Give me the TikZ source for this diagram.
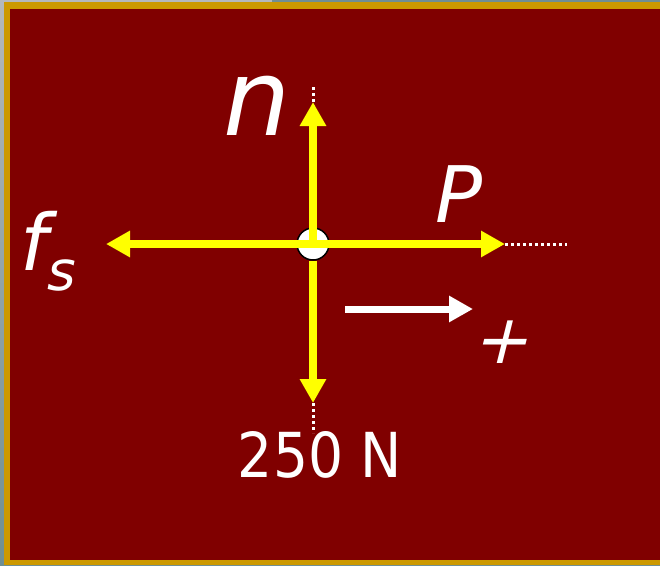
\documentclass[tikz,border=0pt]{standalone}
\usepackage{fontspec}
\setmainfont{DejaVu Sans}
\usetikzlibrary{arrows.meta}
\definecolor{maroonbg}{HTML}{800000}
\definecolor{goldframe}{HTML}{CC9900}
\definecolor{grayedge}{HTML}{B4B8BC}
\definecolor{tealedge}{HTML}{6F8F94}
\definecolor{forceyellow}{HTML}{FFFF00}
\tikzset{
  force/.style={draw=forceyellow, line width=8pt, -{Triangle[length=24pt,width=25pt]}},
  dotext/.style={draw=white, line width=3pt, dash pattern=on 3pt off 3pt},
  lbl/.style={text=white, inner sep=0pt, font=\fontsize{78}{78}\selectfont\itshape},
  dirarrow/.style={draw=white, line width=7pt, -{Triangle[length=24pt,width=25pt]}}
}
\begin{document}
\begin{tikzpicture}[x=1pt,y=-1pt]
\useasboundingbox (0,0) rectangle (660,565);
% background and frame
\shade[top color=grayedge, bottom color=tealedge] (0,0) rectangle (660,565);
\fill[grayedge] (0,0) rectangle (272,1.5);
\fill[tealedge] (272,0) rectangle (660,1.5);
\fill[goldframe] (4,1.5) rectangle (660,565);
\fill[maroonbg] (10,9) rectangle (660,560);
% centre particle
\node[circle, fill=white, draw=black, line width=1.5pt, minimum size=32pt, inner sep=0pt] (o) at (313,244) {};
% named end points
\coordinate (ntip) at (313,102);
\coordinate (ntop) at (313,84);
\coordinate (ptip) at (505,244);
\coordinate (pend) at (567,244);
\coordinate (ftip) at (106,244);
\coordinate (wtip) at (313,403);
\coordinate (wend) at (313,433);
\coordinate (plusstart) at (345,309);
\coordinate (plustip) at (473,309);
% dotted extensions
\draw[dotext] (ntip) -- (ntop);
\draw[dotext] (ptip) -- (pend);
\draw[dotext] (wtip) -- (wend);
% forces
\draw[force] (o.center) -- (ntip);
\draw[force] (o.center) -- (ptip);
\draw[force] (o.center) -- (ftip);
\draw[force] (o.south) -- (wtip);
% positive direction arrow
\draw[dirarrow] (plusstart) -- (plustip);
% labels
\node[lbl, font=\fontsize{106}{106}\selectfont\itshape] (nl) at (257,106) {n};
\node[lbl, anchor=base] (pl) at (459,222) {P};
\node[lbl, anchor=base west] (fl) at (20,270) {f\raisebox{-20pt}{\fontsize{55}{55}\selectfont s}};
\begin{scope}[shift={(505,342)}, xslant=0.25]
  \node[lbl, transform shape, font=\fontsize{68}{68}\selectfont] (plus) at (0,0) {+};
\end{scope}
\node[text=white, inner sep=0pt, font=\fontsize{62}{62}\selectfont] (wl) at (320,455) {\scalebox{0.89}[1]{250 N}};
\end{tikzpicture}
\end{document}
